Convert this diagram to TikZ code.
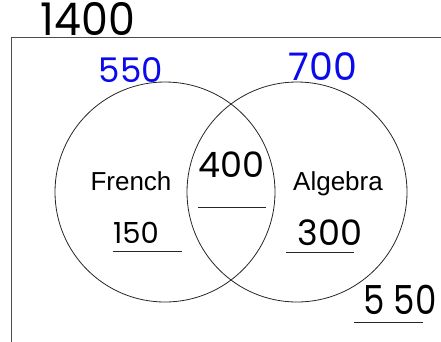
\documentclass[tikz,border=0pt]{standalone}
\usepackage{fontspec}
\setmainfont{Liberation Sans}
\newfontfamily\hand{Poppins}
\definecolor{penblue}{RGB}{10,10,235}
\tikzset{
  setcircle/.style={circle, draw=black!85, line width=0.8pt, minimum size=220pt, inner sep=0pt},
  label/.style={inner sep=0pt, anchor=base, font=\fontsize{26}{26}\selectfont},
  hw/.style={inner sep=0pt, anchor=base, text=black},
  blank/.style={draw=black!85, line width=0.8pt},
}
\begin{document}
\begin{tikzpicture}[x=1pt,y=-1pt]
\useasboundingbox (0,0) rectangle (441,341);
% frame
\coordinate (fTL) at (11,37);
\coordinate (fTR) at (445,37);
\coordinate (fBL) at (11,345);
\draw[black!70, line width=1pt] (fBL) -- (fTL) -- (fTR);
% circles
\node[setcircle] (french) at (165,192) {};
\node[setcircle] (algebra) at (297,192) {};
% labels
\node[label] (ftext) at (131,190) {French};
\node[label] (atext) at (338,190) {Algebra};
% handwritten numbers
\node[hw, font=\hand\fontsize{45}{45}\selectfont, xscale=0.95] (total) at (88,35) {1400};
\node[hw, text=penblue, font=\hand\fontsize{34}{34}\selectfont] (fcount) at (131,82) {550};
\node[hw, text=penblue, font=\hand\fontsize{38}{38}\selectfont] (acount) at (323,80) {700};
\node[hw, font=\hand\fontsize{35}{35}\selectfont] (both) at (231,177) {400};
\node[hw, font=\hand\fontsize{29}{29}\selectfont] (fonly) at (136,243) {150};
\node[hw, font=\hand\fontsize{35}{35}\selectfont] (aonly) at (330,245) {300};
\node[hw, font=\hand\fontsize{40}{40}\selectfont, xscale=0.85] (neither) at (400,314) {5 50};
% answer blanks
\coordinate (b1a) at (198,207); \coordinate (b1b) at (266,207);
\coordinate (b2a) at (113,251); \coordinate (b2b) at (182,251);
\coordinate (b3a) at (286,252); \coordinate (b3b) at (354,252);
\coordinate (b4a) at (354,322); \coordinate (b4b) at (423,322);
\draw[blank] (b1a) -- (b1b);
\draw[blank] (b2a) -- (b2b);
\draw[blank] (b3a) -- (b3b);
\draw[blank] (b4a) -- (b4b);
\end{tikzpicture}
\end{document}
